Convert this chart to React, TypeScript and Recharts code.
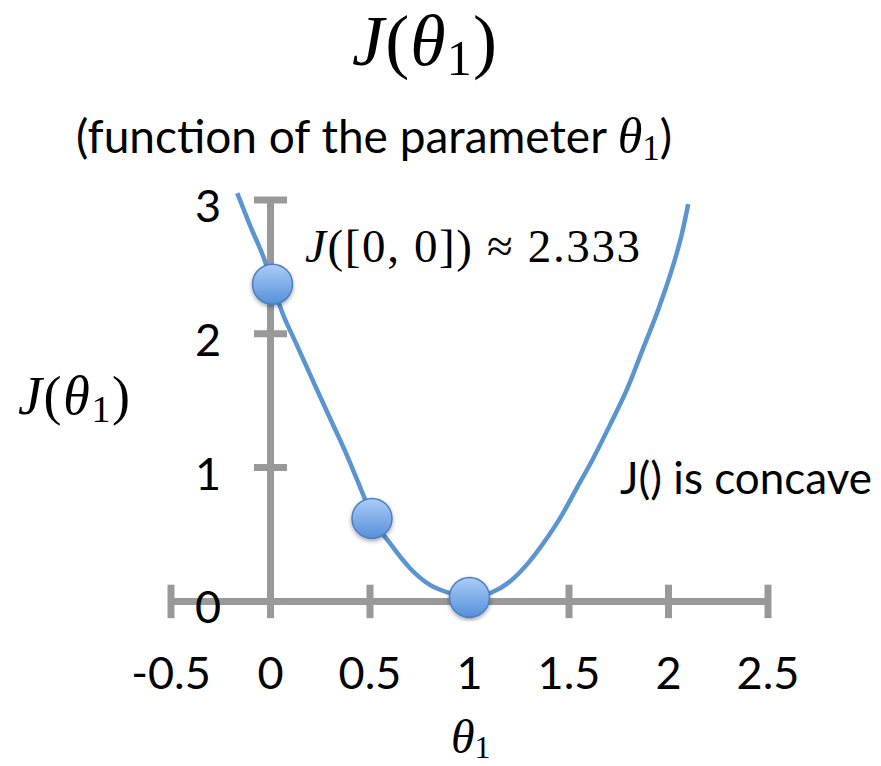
import React from 'react';
import { ComposedChart, Line, Scatter, XAxis, YAxis, ReferenceLine } from 'recharts';

// Curve J(theta1)
const thetaCurve = [-0.167, -0.103, -0.036, 0.064, 0.132, 0.215, 0.299, 0.383, 0.466, 0.514, 0.6, 0.701, 0.801, 0.902, 1.0, 1.103, 1.203, 1.287, 1.371, 1.455, 1.539, 1.622, 1.706, 1.79, 1.873, 1.957, 2.024, 2.066, 2.099];
const jCurve = [3.05, 2.81, 2.576, 2.14, 1.917, 1.642, 1.369, 1.095, 0.796, 0.622, 0.435, 0.248, 0.123, 0.061, 0.025, 0.061, 0.148, 0.273, 0.435, 0.622, 0.846, 1.07, 1.319, 1.58, 1.892, 2.215, 2.514, 2.739, 2.968];

// Highlighted points
const thetaPoints = [0.01, 0.51, 1.0];
const jPoints = [2.37, 0.62, 0.03];

// Ticks
const xTicks = [-0.5, 0, 0.5, 1, 1.5, 2, 2.5];
const xTickLabels = ['-0.5', '0', '0.5', '1', '1.5', '2', '2.5'];
const yTicks = [0, 1, 2, 3];
const yTickLabels = ['0', '1', '2', '3'];

const curveData = thetaCurve.map((x, i) => ({ x, y: jCurve[i] }));
const pointData = thetaPoints.map((x, i) => ({ x, y: jPoints[i] }));

const AXIS = '#999999';
const SANS = 'Lato, "Open Sans", sans-serif';
const SERIF = '"Liberation Serif", "DejaVu Serif", serif';

const XTick = (props: any) => {
  const { x, y, payload } = props;
  const i = xTicks.indexOf(payload.value);
  return (
    <text x={x} y={y + 67} textAnchor="middle" fontFamily={SANS} fontSize={45} fill="#000">
      {xTickLabels[i]}
    </text>
  );
};

const YTick = (props: any) => {
  const { x, y, payload } = props;
  const i = yTicks.indexOf(payload.value);
  return (
    <text x={x + 37} y={y + 22} textAnchor="middle" fontFamily={SANS} fontSize={45} fill="#000">
      {yTickLabels[i]}
    </text>
  );
};

const Dot = (props: any) => {
  const { cx, cy } = props;
  return (
    <g>
      <defs>
        <linearGradient id="dotGrad" x1="0" y1="0" x2="0" y2="1">
          <stop offset="0" stopColor="#abcdf8" />
          <stop offset="1" stopColor="#5690da" />
        </linearGradient>
        <filter id="dotShadow" x="-50%" y="-50%" width="200%" height="200%">
          <feDropShadow dx="0" dy="2" stdDeviation="2" floodColor="#000" floodOpacity="0.35" />
        </filter>
      </defs>
      <circle cx={cx} cy={cy} r={20} fill="url(#dotGrad)" stroke="#4a7fc1" strokeWidth={1.5} filter="url(#dotShadow)" />
    </g>
  );
};

export default function App() {
  return (
    <div style={{ position: 'absolute', left: 0, top: 0, width: 881, height: 766, background: '#fff' }}>
      <ComposedChart width={881} height={766} margin={{ top: 186.5, right: 113, bottom: 114.5, left: 141 }}>
        <ReferenceLine segment={[{ x: -0.5, y: 0 }, { x: 2.5, y: 0 }]} stroke={AXIS} strokeWidth={7} ifOverflow="visible" />
        <ReferenceLine segment={[{ x: 0, y: 0 }, { x: 0, y: 3 }]} stroke={AXIS} strokeWidth={7} ifOverflow="visible" />
        {xTicks.map((t) => (
          <ReferenceLine key={'xt' + t} segment={[{ x: t, y: -0.125 }, { x: t, y: 0.125 }]} stroke={AXIS} strokeWidth={7} ifOverflow="visible" />
        ))}
        {yTicks.map((t) => (
          <ReferenceLine key={'yt' + t} segment={[{ x: -0.083, y: t }, { x: 0.083, y: t }]} stroke={AXIS} strokeWidth={7} ifOverflow="visible" />
        ))}
        <XAxis
          type="number"
          dataKey="x"
          domain={[-0.5, 2.5]}
          ticks={xTicks}
          interval={0}
          axisLine={false}
          tickLine={false}
          tickSize={0}
          tickMargin={0}
          height={30}
          tick={<XTick />}
          allowDataOverflow
        />
        <YAxis
          type="number"
          domain={[-0.15, 3.1]}
          ticks={yTicks}
          interval={0}
          axisLine={false}
          tickLine={false}
          tickSize={0}
          tickMargin={0}
          width={30}
          tick={<YTick />}
          allowDataOverflow
        />
        <Line data={curveData} dataKey="y" type="monotone" stroke="#5b95d1" strokeWidth={4.5} dot={false} activeDot={false} isAnimationActive={false} />
        <Scatter data={pointData} dataKey="y" shape={<Dot />} isAnimationActive={false} />
      </ComposedChart>
      <svg width={881} height={766} style={{ position: 'absolute', left: 0, top: 0, pointerEvents: 'none' }}>
        <text x={352} y={65} fontFamily={SERIF} fontSize={72} fill="#000" textLength={145} lengthAdjust="spacing">
          <tspan fontStyle="italic">J</tspan>(<tspan fontStyle="italic">θ</tspan>
          <tspan fontSize={50} dy={10}>1</tspan>
          <tspan dy={-10}>)</tspan>
        </text>
        <text x={76} y={153} fontFamily={SANS} fontSize={46} fill="#000">
          (function of the parameter{' '}
          <tspan fontFamily={SERIF} fontStyle="italic" fontSize={50}>θ</tspan>
          <tspan fontFamily={SERIF} fontSize={35} dy={7}>1</tspan>
          <tspan dy={-7}>)</tspan>
        </text>
        <text x={305} y={262} fontFamily={SERIF} fontSize={47} fill="#000" textLength={335} lengthAdjust="spacing">
          <tspan fontStyle="italic">J</tspan>([0, 0]) ≈ 2.333
        </text>
        <text x={18} y={414} fontFamily={SERIF} fontSize={54} fill="#000" textLength={112} lengthAdjust="spacing">
          <tspan fontStyle="italic">J</tspan>(<tspan fontStyle="italic">θ</tspan>
          <tspan fontSize={38} dy={8}>1</tspan>
          <tspan dy={-8}>)</tspan>
        </text>
        <text x={620} y={494} fontFamily={SANS} fontSize={44} fill="#000">
          J() is concave
        </text>
        <text x={451} y={753} fontFamily={SERIF} fontSize={48} fill="#000">
          <tspan fontStyle="italic">θ</tspan>
          <tspan fontSize={32} dy={5}>1</tspan>
        </text>
      </svg>
    </div>
  );
}
